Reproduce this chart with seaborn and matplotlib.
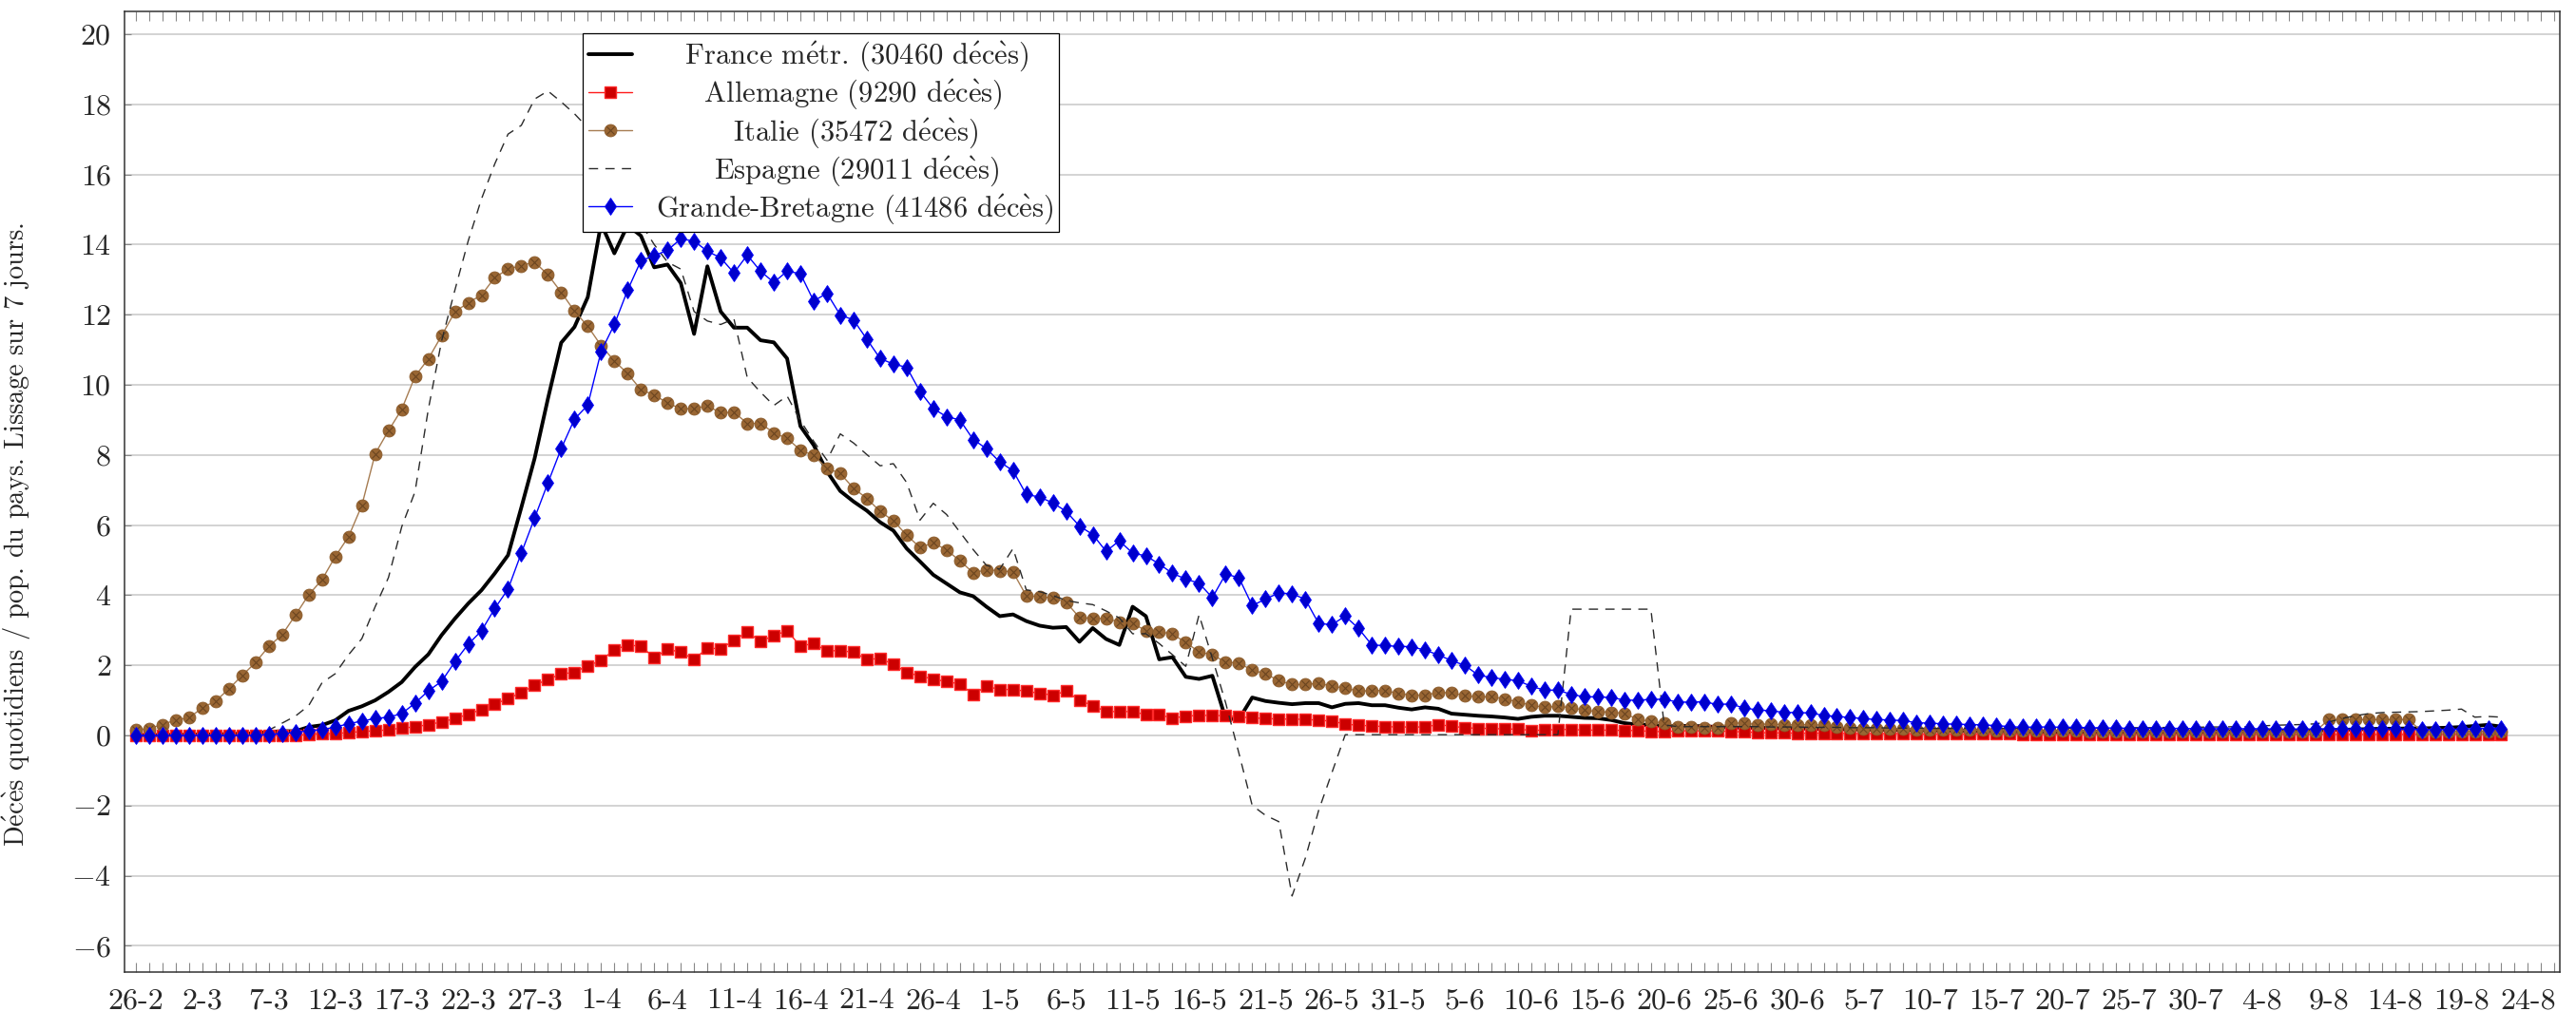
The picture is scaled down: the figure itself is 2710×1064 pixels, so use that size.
import matplotlib
matplotlib.use("Agg")
import matplotlib.pyplot as plt
import seaborn as sns
from matplotlib.ticker import MultipleLocator
from matplotlib.legend_handler import HandlerTuple

# ---- data (one value per day, starting 26-2) ----
date_labels = ["26-2", "2-3", "7-3", "12-3", "17-3", "22-3", "27-3", "1-4", "6-4", "11-4",
               "16-4", "21-4", "26-4", "1-5", "6-5", "11-5", "16-5", "21-5", "26-5", "31-5",
               "5-6", "10-6", "15-6", "20-6", "25-6", "30-6", "5-7", "10-7", "15-7", "20-7",
               "25-7", "30-7", "4-8", "9-8", "14-8", "19-8", "24-8"]

france = [0.01, 0.01, 0.01, 0.02, 0.02, 0.03, 0.03, 0.04, 0.05, 0.06,
          0.10, 0.12, 0.12, 0.24, 0.29, 0.43, 0.70, 0.83, 1.00, 1.24,
          1.52, 1.95, 2.31, 2.86, 3.33, 3.76, 4.14, 4.62, 5.14, 6.50,
          7.90, 9.60, 11.20, 11.65, 12.50, 14.60, 13.75, 14.55, 14.25, 13.35,
          13.43, 12.90, 11.45, 13.38, 12.09, 11.63, 11.63, 11.27, 11.21, 10.75,
          8.82, 8.28, 7.53, 6.97, 6.67, 6.41, 6.08, 5.84, 5.33, 4.96,
          4.58, 4.33, 4.08, 3.97, 3.67, 3.40, 3.45, 3.26, 3.13, 3.07,
          3.09, 2.67, 3.06, 2.75, 2.58, 3.67, 3.40, 2.17, 2.23, 1.67,
          1.61, 1.70, 0.48, 0.46, 1.08, 0.98, 0.93, 0.89, 0.92, 0.92,
          0.80, 0.90, 0.92, 0.86, 0.86, 0.79, 0.74, 0.80, 0.76, 0.62,
          0.59, 0.56, 0.54, 0.51, 0.47, 0.53, 0.56, 0.56, 0.53, 0.50,
          0.49, 0.44, 0.35, 0.31, 0.29, 0.27, 0.27, 0.27, 0.26, 0.24,
          0.23, 0.22, 0.22, 0.21, 0.20, 0.20, 0.19, 0.18, 0.18, 0.17,
          0.17, 0.16, 0.16, 0.15, 0.15, 0.14, 0.14, 0.13, 0.13, 0.12,
          0.12, 0.12, 0.11, 0.11, 0.11, 0.10, 0.10, 0.10, 0.10, 0.10,
          0.10, 0.10, 0.10, 0.10, 0.10, 0.10, 0.11, 0.11, 0.11, 0.12,
          0.12, 0.12, 0.13, 0.13, 0.14, 0.15, 0.16, 0.17, 0.18, 0.19,
          0.19, 0.20, 0.20, 0.21, 0.22, 0.24, 0.27, 0.30, 0.25]

germany = [0.00, 0.00, 0.00, 0.00, 0.00, 0.00, 0.00, 0.00, 0.00, 0.00,
           0.00, 0.00, 0.00, 0.03, 0.05, 0.05, 0.08, 0.11, 0.13, 0.16,
           0.21, 0.24, 0.31, 0.38, 0.48, 0.60, 0.74, 0.89, 1.05, 1.22,
           1.43, 1.60, 1.75, 1.80, 1.99, 2.13, 2.45, 2.57, 2.55, 2.21,
           2.46, 2.37, 2.17, 2.49, 2.47, 2.71, 2.95, 2.68, 2.85, 2.98,
           2.55, 2.62, 2.41, 2.42, 2.37, 2.17, 2.19, 2.03, 1.80, 1.69,
           1.61, 1.53, 1.47, 1.17, 1.40, 1.31, 1.31, 1.26, 1.20, 1.15,
           1.26, 1.00, 0.85, 0.68, 0.68, 0.68, 0.59, 0.59, 0.49, 0.55,
           0.57, 0.57, 0.56, 0.53, 0.50, 0.48, 0.47, 0.46, 0.46, 0.43,
           0.41, 0.32, 0.29, 0.27, 0.25, 0.24, 0.24, 0.24, 0.31, 0.26,
           0.22, 0.20, 0.20, 0.18, 0.18, 0.14, 0.15, 0.17, 0.17, 0.15,
           0.15, 0.15, 0.14, 0.14, 0.11, 0.11, 0.13, 0.13, 0.13, 0.13,
           0.11, 0.10, 0.08, 0.07, 0.07, 0.06, 0.06, 0.06, 0.06, 0.05,
           0.05, 0.05, 0.05, 0.05, 0.04, 0.04, 0.04, 0.04, 0.04, 0.04,
           0.04, 0.04, 0.03, 0.03, 0.03, 0.03, 0.03, 0.03, 0.03, 0.03,
           0.03, 0.03, 0.03, 0.03, 0.03, 0.03, 0.03, 0.03, 0.03, 0.03,
           0.03, 0.03, 0.03, 0.03, 0.03, 0.03, 0.03, 0.03, 0.03, 0.03,
           0.03, 0.03, 0.03, 0.03, 0.03, 0.03, 0.03, 0.03, 0.03]

italy = [0.15, 0.20, 0.31, 0.44, 0.50, 0.79, 0.98, 1.33, 1.71, 2.08,
         2.54, 2.87, 3.43, 4.01, 4.44, 5.10, 5.67, 6.56, 8.03, 8.69,
         9.30, 10.24, 10.74, 11.40, 12.08, 12.34, 12.56, 13.06, 13.30, 13.40,
         13.50, 13.14, 12.64, 12.10, 11.67, 11.12, 10.68, 10.32, 9.86, 9.71,
         9.48, 9.32, 9.32, 9.40, 9.20, 9.22, 8.90, 8.90, 8.63, 8.47,
         8.14, 7.98, 7.62, 7.47, 7.05, 6.76, 6.39, 6.12, 5.71, 5.36,
         5.49, 5.29, 4.98, 4.64, 4.72, 4.70, 4.66, 3.98, 3.96, 3.92,
         3.80, 3.36, 3.34, 3.34, 3.23, 3.19, 2.99, 2.96, 2.89, 2.65,
         2.38, 2.30, 2.09, 2.06, 1.86, 1.76, 1.56, 1.45, 1.45, 1.49,
         1.40, 1.35, 1.26, 1.28, 1.28, 1.19, 1.15, 1.15, 1.22, 1.22,
         1.13, 1.10, 1.10, 1.04, 0.95, 0.86, 0.80, 0.83, 0.79, 0.72,
         0.68, 0.66, 0.63, 0.46, 0.40, 0.35, 0.25, 0.24, 0.21, 0.22,
         0.35, 0.35, 0.31, 0.33, 0.30, 0.30, 0.31, 0.29, 0.24, 0.22,
         0.20, 0.20, 0.20, 0.18, 0.16, 0.16, 0.16, 0.15, 0.15, 0.15,
         0.14, 0.14, 0.14, 0.13, 0.13, 0.13, 0.13, 0.12, 0.12, 0.12,
         0.12, 0.12, 0.11, 0.11, 0.11, 0.11, 0.11, 0.11, 0.11, 0.11,
         0.11, 0.11, 0.11, 0.11, 0.11, 0.45, 0.46, 0.45, 0.45, 0.45,
         0.45, 0.45, 0.12, 0.12, 0.12, 0.12, 0.12, 0.12, 0.11]

spain = [0.00, 0.00, 0.00, 0.00, 0.00, 0.00, 0.00, 0.00, 0.00, 0.00,
         0.15, 0.35, 0.55, 0.85, 1.50, 1.76, 2.30, 2.76, 3.67, 4.50,
         5.95, 6.95, 9.30, 11.25, 12.70, 14.10, 15.30, 16.30, 17.15, 17.40,
         18.15, 18.38, 18.07, 17.73, 17.33, 16.90, 16.10, 15.30, 14.60, 14.00,
         13.50, 13.30, 12.09, 11.82, 11.72, 11.88, 10.21, 9.79, 9.41, 9.68,
         8.98, 8.39, 7.85, 8.60, 8.34, 8.01, 7.69, 7.75, 7.21, 6.14,
         6.62, 6.30, 5.80, 5.30, 4.85, 4.74, 5.33, 4.15, 4.10, 3.99,
         3.85, 3.78, 3.73, 3.55, 3.35, 2.90, 2.90, 2.62, 2.30, 1.97,
         3.44, 2.20, 0.93, -0.51, -2.00, -2.28, -2.46, -4.58, -3.50, -2.14,
         -1.06, 0.02, 0.02, 0.02, 0.02, 0.02, 0.02, 0.02, 0.02, 0.02,
         0.02, 0.02, 0.02, 0.02, 0.02, 0.02, 0.02, 0.02, 3.60, 3.60,
         3.60, 3.60, 3.60, 3.60, 3.60, 0.30, 0.25, 0.25, 0.25, 0.25,
         0.25, 0.25, 0.25, 0.24, 0.24, 0.24, 0.23, 0.23, 0.23, 0.22,
         0.22, 0.22, 0.21, 0.21, 0.21, 0.20, 0.20, 0.20, 0.20, 0.20,
         0.20, 0.20, 0.20, 0.20, 0.20, 0.20, 0.21, 0.21, 0.21, 0.22,
         0.22, 0.22, 0.22, 0.23, 0.23, 0.23, 0.24, 0.24, 0.25, 0.25,
         0.27, 0.29, 0.30, 0.31, 0.33, 0.38, 0.48, 0.56, 0.62, 0.65,
         0.66, 0.67, 0.68, 0.70, 0.72, 0.75, 0.52, 0.54, 0.52]

uk = [0.00, 0.00, 0.00, 0.00, 0.00, 0.00, 0.00, 0.00, 0.00, 0.00,
      0.03, 0.05, 0.08, 0.14, 0.16, 0.24, 0.33, 0.41, 0.48, 0.52,
      0.62, 0.92, 1.27, 1.54, 2.10, 2.60, 2.98, 3.62, 4.17, 5.20,
      6.20, 7.20, 8.18, 9.02, 9.42, 10.95, 11.72, 12.70, 13.54, 13.68,
      13.84, 14.16, 14.10, 13.81, 13.62, 13.19, 13.70, 13.24, 12.92, 13.24,
      13.17, 12.39, 12.61, 11.99, 11.85, 11.30, 10.75, 10.59, 10.50, 9.81,
      9.32, 9.09, 9.00, 8.44, 8.18, 7.80, 7.55, 6.87, 6.80, 6.63,
      6.39, 5.97, 5.73, 5.25, 5.55, 5.20, 5.12, 4.89, 4.62, 4.46,
      4.34, 3.93, 4.60, 4.50, 3.70, 3.89, 4.06, 4.04, 3.88, 3.19,
      3.16, 3.40, 3.05, 2.58, 2.56, 2.54, 2.53, 2.43, 2.30, 2.13,
      2.00, 1.72, 1.65, 1.60, 1.56, 1.40, 1.29, 1.29, 1.17, 1.10,
      1.10, 1.08, 1.01, 1.00, 1.03, 1.03, 0.95, 0.95, 0.96, 0.88,
      0.90, 0.78, 0.73, 0.70, 0.66, 0.65, 0.64, 0.57, 0.54, 0.51,
      0.48, 0.45, 0.44, 0.42, 0.36, 0.35, 0.33, 0.32, 0.31, 0.30,
      0.28, 0.25, 0.23, 0.24, 0.24, 0.23, 0.23, 0.22, 0.21, 0.21,
      0.20, 0.20, 0.20, 0.20, 0.20, 0.19, 0.19, 0.19, 0.19, 0.19,
      0.19, 0.18, 0.18, 0.18, 0.18, 0.18, 0.18, 0.18, 0.18, 0.18,
      0.18, 0.18, 0.17, 0.17, 0.17, 0.18, 0.19, 0.20, 0.20]

legend_labels = [
    "   France m$\\acute{\\mathrm{e}}$tr. (30460 d$\\acute{\\mathrm{e}}$c$\\grave{\\mathrm{e}}$s)",
    "     Allemagne (9290 d$\\acute{\\mathrm{e}}$c$\\grave{\\mathrm{e}}$s)",
    "        Italie (35472 d$\\acute{\\mathrm{e}}$c$\\grave{\\mathrm{e}}$s)",
    "      Espagne (29011 d$\\acute{\\mathrm{e}}$c$\\grave{\\mathrm{e}}$s)",
    "Grande-Bretagne (41486 d$\\acute{\\mathrm{e}}$c$\\grave{\\mathrm{e}}$s)",
]
y_label = "D$\\acute{\\mathrm{e}}$c$\\grave{\\mathrm{e}}$s quotidiens / pop. du pays. Lissage sur 7 jours."

n = len(france)
for arr in (germany, italy, spain, uk):
    assert len(arr) == n, len(arr)
days = list(range(n))

# ---- style ----
sns.set_theme(style="white")
plt.rcParams["font.family"] = ["cmr10", "DejaVu Serif"]
plt.rcParams["mathtext.fontset"] = "cm"
plt.rcParams["axes.formatter.use_mathtext"] = True
plt.rcParams["axes.unicode_minus"] = True

W, H = 2710, 1064
fig = plt.figure(figsize=(W / 100, H / 100), dpi=100)
L, R, T, B = 131, 2693, 12, 1023
ax = fig.add_axes([L / W, 1 - B / H, (R - L) / W, (B - T) / H])

sns.lineplot(x=days, y=france, ax=ax, color="black", linewidth=2.8,
             errorbar=None, zorder=3)
sns.lineplot(x=days, y=germany, ax=ax, color="#ff1a1a", linewidth=1.0,
             marker="s", markersize=8.3, markerfacecolor="#cc0000",
             markeredgecolor="#ff2a2a", markeredgewidth=1.0, errorbar=None, zorder=4)
sns.lineplot(x=days, y=italy, ax=ax, color="#a67c52", linewidth=1.0,
             marker="o", markersize=9.3, markerfacecolor="#996633",
             markeredgecolor="#8a5a2a", markeredgewidth=0.6, errorbar=None, zorder=5)
sns.lineplot(x=days, y=italy, ax=ax, color="#5c3b1c", linestyle="none",
             marker="x", markersize=6.4, markeredgewidth=0.8,
             markeredgecolor="#6b4520", errorbar=None, zorder=5.1)
sns.lineplot(x=days, y=spain, ax=ax, color="#2a2a2a", linewidth=1.0,
             linestyle=(0, (7, 5.5)), errorbar=None, zorder=6)
sns.lineplot(x=days, y=uk, ax=ax, color="#0000ff", linewidth=1.0,
             marker="d", markersize=9.5, markerfacecolor="#0000cc",
             markeredgecolor="#0000ff", markeredgewidth=0.6, errorbar=None, zorder=7)

# ---- axes ----
ax.set_xlim(-0.86, 182.4)
ax.set_ylim(-6.75, 20.65)
ax.set_xticks(list(range(0, 5 * len(date_labels), 5)))
ax.set_xticklabels(date_labels)
ax.xaxis.set_minor_locator(MultipleLocator(1))
ax.set_yticks(list(range(-6, 21, 2)))
ax.tick_params(axis="x", which="both", direction="in", top=True, bottom=True,
               length=7, width=0.8, color="#888888", labelsize=23, pad=12)
ax.tick_params(axis="y", which="both", direction="in", left=True, right=False,
               length=5, width=0.8, color="#888888", labelsize=23, pad=10)
ax.yaxis.grid(True, color="#c8c8c8", linewidth=1.1)
ax.xaxis.grid(False)
ax.set_axisbelow(True)
for s in ax.spines.values():
    s.set_color("#333333")
    s.set_linewidth(1.1)
ax.set_xlabel("")
ax.set_ylabel(y_label, fontsize=20.5)
ax.yaxis.set_label_coords(-0.0376, 0.456)

lines = ax.get_lines()
handles = [lines[0], lines[1], (lines[2], lines[3]), lines[4], lines[5]]
leg = ax.legend(handles, legend_labels, handler_map={tuple: HandlerTuple(ndivide=1)},
                loc="upper left", bbox_to_anchor=(0.188, 0.977), frameon=True,
                fancybox=False, edgecolor="black", framealpha=1, fontsize=22,
                handlelength=1.5, handletextpad=0.8, labelspacing=0.15,
                borderpad=0.22, borderaxespad=0, numpoints=1)
leg.get_frame().set_linewidth(0.9)
leg.set_zorder(20)

fig.savefig("out.png", dpi=100)
